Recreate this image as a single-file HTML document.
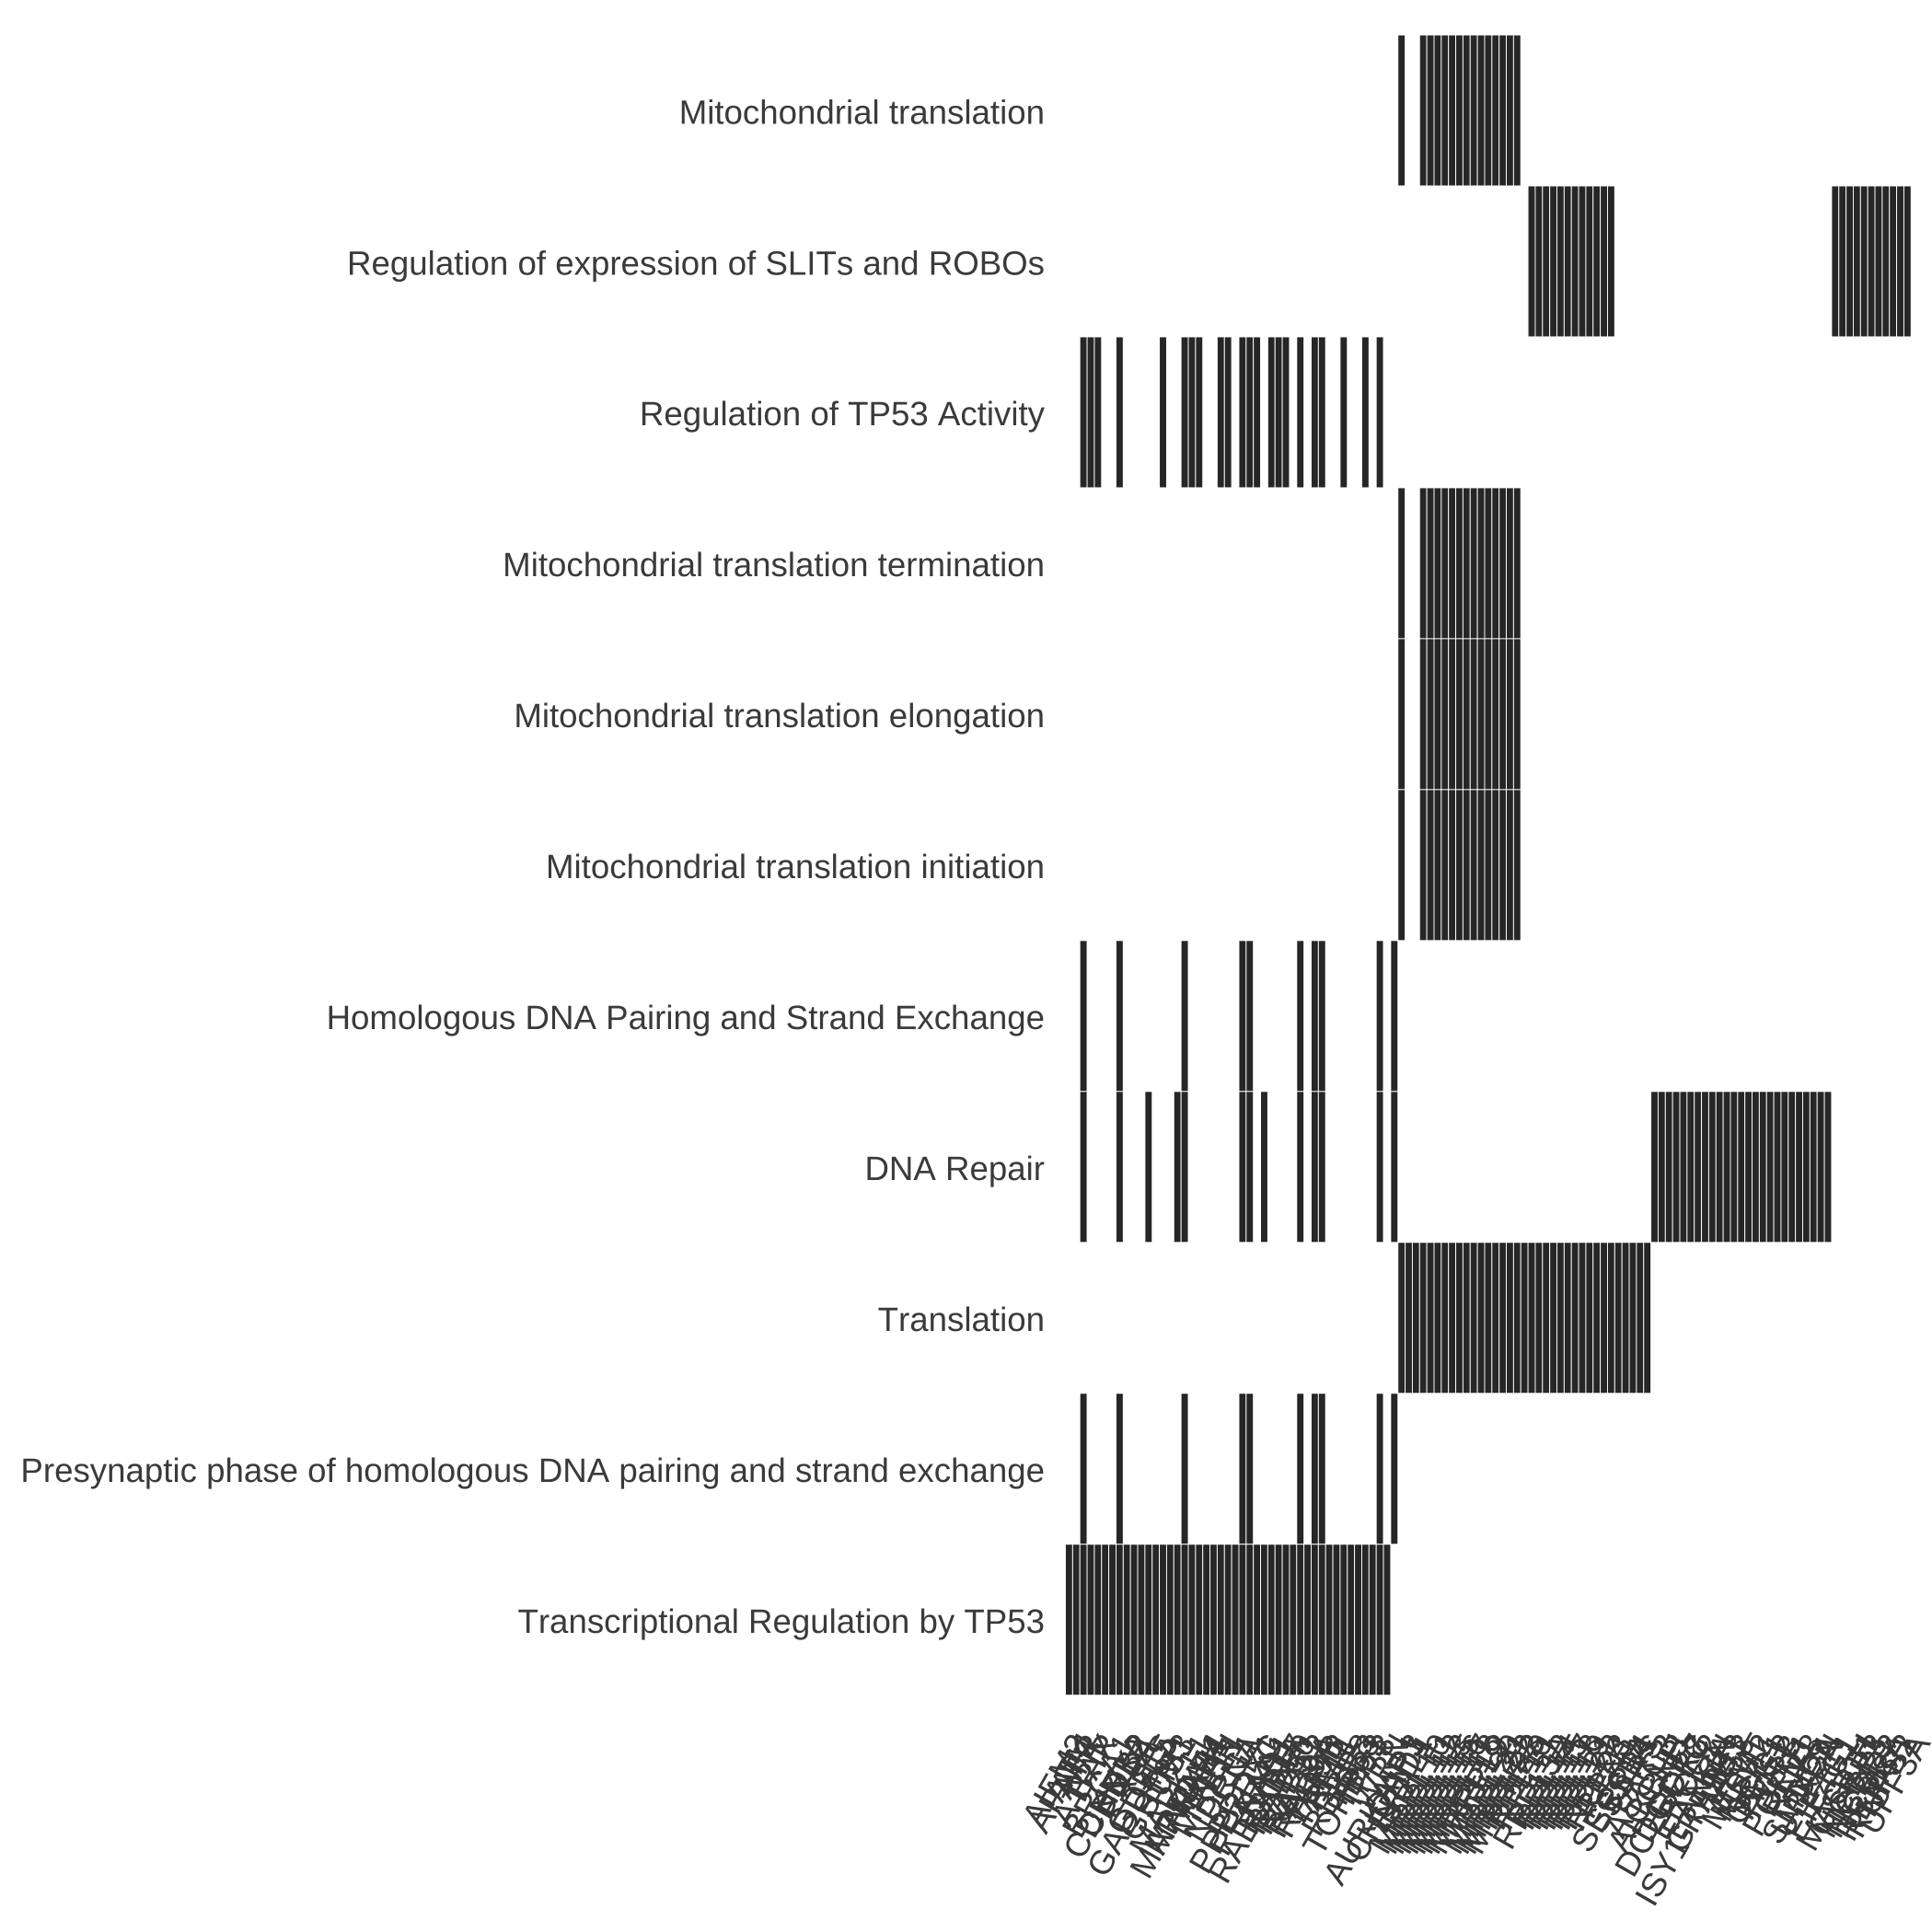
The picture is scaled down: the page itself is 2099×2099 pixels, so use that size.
<!DOCTYPE html>
<html lang="en">
<head>
<meta charset="utf-8">
<title>Pathway gene membership heatmap</title>
<style>
html,body{margin:0;padding:0;background:#fff;width:2099px;height:2099px;overflow:hidden}
svg{display:block}
text{font-family:"Liberation Sans",Arial,sans-serif;fill:#3a3a3a;font-kerning:none;text-rendering:geometricPrecision}
</style>
</head>
<body>
<svg id="chart" xmlns="http://www.w3.org/2000/svg" width="2099" height="2099" viewBox="0 0 2099 2099">
<rect x="0" y="0" width="2099" height="2099" fill="#ffffff"/>
<g id="cells"></g>
<g id="ylabels"></g>
<g id="xlabels"></g>
</svg>
<script>
const pathways = [
  "Mitochondrial translation",
  "Regulation of expression of SLITs and ROBOs",
  "Regulation of TP53 Activity",
  "Mitochondrial translation termination",
  "Mitochondrial translation elongation",
  "Mitochondrial translation initiation",
  "Homologous DNA Pairing and Strand Exchange",
  "DNA Repair",
  "Translation",
  "Presynaptic phase of homologous DNA pairing and strand exchange",
  "Transcriptional Regulation by TP53"
];
const genes = [
  "AIFM2","APAF1","ATM","ATR","ATRIP","BAX","BRCA1","CDKN1A","CHEK2","DDB2",
  "EXO1","GADD45A","GDF15","GLS","GSTM3","HUS1","MAPK11","MAPKAP1","MAPK14","MDM4",
  "MLH1","MRE11","NBN","NDRG1","PCNA","PPP2R5C","PRDX1","PRKAA1","RABGGTA","RAD1",
  "RAD17","RAD50","RAD51","RAD52","RAD9A","RAD9B","TAF12","TAF1L","RMI1","RBBP8",
  "TOPBP1","TP53","TP63","TP73","AURKAIP1","WRN","CHCHD1","DAP3","ERAL1","MRPL10",
  "MRPL11","MRPL12","MRPL13","MRPL15","MRPL16","MRPL17","MRPL18","MRPL19","MRPL2","MRPL20",
  "MRPL21","MRPL22","MRPL23","MTIF2","RPL10","RPL11","RPL13A","RPL12","RPL14","RPL15",
  "RPL17","RPL18","RPL19","RPL21","RPL22","RPL23","RPN1","SEC61A","SRP14","SSR1",
  "TARS","ASCC3","ALKBH3","CCNH","DCLRE1C","DGCR8","CDK7","ERCC2","ISY1-RAB43","FANCA",
  "GTF2H1","KIN","LIG1","LIG3","MGMT","MSH2","NEIL1","OGG1","PMS2","POLB",
  "POLD1","REV1","RNF8","SMUG1","UBE2N","XPA","EIF4G1","ETF1","MAGOH","GSPT1",
  "NCBP3","NCBP1","NCBP2","RBM8A","RNPS1","UPF2","UPF3A"
];
const mitoTranslation = [
  0,0,0,0,0,0,0,0,0,0, 0,0,0,0,0,0,0,0,0,0, 0,0,0,0,0,0,0,0,0,0, 0,0,0,0,0,0,0,0,0,0,
  0,0,0,0,0,0,1,0,0,1, 1,1,1,1,1,1,1,1,1,1, 1,1,1,0,0,0,0,0,0,0, 0,0,0,0,0,0,0,0,0,0,
  0,0,0,0,0,0,0,0,0,0, 0,0,0,0,0,0,0,0,0,0, 0,0,0,0,0,0,0,0,0,0, 0,0,0,0,0,0,0
];
const slitsRobos = [
  0,0,0,0,0,0,0,0,0,0, 0,0,0,0,0,0,0,0,0,0, 0,0,0,0,0,0,0,0,0,0, 0,0,0,0,0,0,0,0,0,0,
  0,0,0,0,0,0,0,0,0,0, 0,0,0,0,0,0,0,0,0,0, 0,0,0,0,1,1,1,1,1,1, 1,1,1,1,1,1,0,0,0,0,
  0,0,0,0,0,0,0,0,0,0, 0,0,0,0,0,0,0,0,0,0, 0,0,0,0,0,0,1,1,1,1, 1,1,1,1,1,1,1
];
const tp53Activity = [
  0,0,1,1,1,0,0,1,0,0, 0,0,0,1,0,0,1,1,1,0, 0,1,1,0,1,1,1,0,1,1, 1,0,1,0,1,1,0,0,1,0,
  0,1,0,1,0,0,0,0,0,0, 0,0,0,0,0,0,0,0,0,0, 0,0,0,0,0,0,0,0,0,0, 0,0,0,0,0,0,0,0,0,0,
  0,0,0,0,0,0,0,0,0,0, 0,0,0,0,0,0,0,0,0,0, 0,0,0,0,0,0,0,0,0,0, 0,0,0,0,0,0,0
];
const mitoTermination = [
  0,0,0,0,0,0,0,0,0,0, 0,0,0,0,0,0,0,0,0,0, 0,0,0,0,0,0,0,0,0,0, 0,0,0,0,0,0,0,0,0,0,
  0,0,0,0,0,0,1,0,0,1, 1,1,1,1,1,1,1,1,1,1, 1,1,1,0,0,0,0,0,0,0, 0,0,0,0,0,0,0,0,0,0,
  0,0,0,0,0,0,0,0,0,0, 0,0,0,0,0,0,0,0,0,0, 0,0,0,0,0,0,0,0,0,0, 0,0,0,0,0,0,0
];
const mitoElongation = [
  0,0,0,0,0,0,0,0,0,0, 0,0,0,0,0,0,0,0,0,0, 0,0,0,0,0,0,0,0,0,0, 0,0,0,0,0,0,0,0,0,0,
  0,0,0,0,0,0,1,0,0,1, 1,1,1,1,1,1,1,1,1,1, 1,1,1,0,0,0,0,0,0,0, 0,0,0,0,0,0,0,0,0,0,
  0,0,0,0,0,0,0,0,0,0, 0,0,0,0,0,0,0,0,0,0, 0,0,0,0,0,0,0,0,0,0, 0,0,0,0,0,0,0
];
const mitoInitiation = [
  0,0,0,0,0,0,0,0,0,0, 0,0,0,0,0,0,0,0,0,0, 0,0,0,0,0,0,0,0,0,0, 0,0,0,0,0,0,0,0,0,0,
  0,0,0,0,0,0,1,0,0,1, 1,1,1,1,1,1,1,1,1,1, 1,1,1,0,0,0,0,0,0,0, 0,0,0,0,0,0,0,0,0,0,
  0,0,0,0,0,0,0,0,0,0, 0,0,0,0,0,0,0,0,0,0, 0,0,0,0,0,0,0,0,0,0, 0,0,0,0,0,0,0
];
const homologousPairing = [
  0,0,1,0,0,0,0,1,0,0, 0,0,0,0,0,0,1,0,0,0, 0,0,0,0,1,1,0,0,0,0, 0,0,1,0,1,1,0,0,0,0,
  0,0,0,1,0,1,0,0,0,0, 0,0,0,0,0,0,0,0,0,0, 0,0,0,0,0,0,0,0,0,0, 0,0,0,0,0,0,0,0,0,0,
  0,0,0,0,0,0,0,0,0,0, 0,0,0,0,0,0,0,0,0,0, 0,0,0,0,0,0,0,0,0,0, 0,0,0,0,0,0,0
];
const dnaRepair = [
  0,0,1,0,0,0,0,1,0,0, 0,1,0,0,0,1,1,0,0,0, 0,0,0,0,1,1,0,1,0,0, 0,0,1,0,1,1,0,0,0,0,
  0,0,0,1,0,1,0,0,0,0, 0,0,0,0,0,0,0,0,0,0, 0,0,0,0,0,0,0,0,0,0, 0,0,0,0,0,0,0,0,0,0,
  0,1,1,1,1,1,1,1,1,1, 1,1,1,1,1,1,1,1,1,1, 1,1,1,1,1,1,0,0,0,0, 0,0,0,0,0,0,0
];
const translation = [
  0,0,0,0,0,0,0,0,0,0, 0,0,0,0,0,0,0,0,0,0, 0,0,0,0,0,0,0,0,0,0, 0,0,0,0,0,0,0,0,0,0,
  0,0,0,0,0,0,1,1,1,1, 1,1,1,1,1,1,1,1,1,1, 1,1,1,1,1,1,1,1,1,1, 1,1,1,1,1,1,1,1,1,1,
  1,0,0,0,0,0,0,0,0,0, 0,0,0,0,0,0,0,0,0,0, 0,0,0,0,0,0,0,0,0,0, 0,0,0,0,0,0,0
];
const presynapticPhase = [
  0,0,1,0,0,0,0,1,0,0, 0,0,0,0,0,0,1,0,0,0, 0,0,0,0,1,1,0,0,0,0, 0,0,1,0,1,1,0,0,0,0,
  0,0,0,1,0,1,0,0,0,0, 0,0,0,0,0,0,0,0,0,0, 0,0,0,0,0,0,0,0,0,0, 0,0,0,0,0,0,0,0,0,0,
  0,0,0,0,0,0,0,0,0,0, 0,0,0,0,0,0,0,0,0,0, 0,0,0,0,0,0,0,0,0,0, 0,0,0,0,0,0,0
];
const tp53Transcription = [
  1,1,1,1,1,1,1,1,1,1, 1,1,1,1,1,1,1,1,1,1, 1,1,1,1,1,1,1,1,1,1, 1,1,1,1,1,1,1,1,1,1,
  1,1,1,1,1,0,0,0,0,0, 0,0,0,0,0,0,0,0,0,0, 0,0,0,0,0,0,0,0,0,0, 0,0,0,0,0,0,0,0,0,0,
  0,0,0,0,0,0,0,0,0,0, 0,0,0,0,0,0,0,0,0,0, 0,0,0,0,0,0,0,0,0,0, 0,0,0,0,0,0,0
];
const membership = [
  mitoTranslation, slitsRobos, tp53Activity, mitoTermination, mitoElongation, mitoInitiation,
  homologousPairing, dnaRepair, translation, presynapticPhase, tp53Transcription
];

const SVG_NS = "http://www.w3.org/2000/svg";
const plotLeft = 1157.5, plotRight = 2076.3, plotTop = 38, plotBottom = 1841.7;
const cellW = (plotRight - plotLeft) / genes.length;
const cellH = (plotBottom - plotTop) / pathways.length;
const xScale = function (i) { return plotLeft + i * cellW; };
const yScale = function (r) { return plotTop + r * cellH; };
const colorScale = function (v) { return v > 0 ? "#262626" : "#ffffff"; };

const fontSize = 36.67;
const cellsG = document.getElementById("cells");
const yG = document.getElementById("ylabels");
const xG = document.getElementById("xlabels");

membership.forEach(function (row, r) {
  row.forEach(function (v, c) {
    if (!v) return;
    const rect = document.createElementNS(SVG_NS, "rect");
    
    
    rect.setAttribute("x", xScale(c));
    rect.setAttribute("y", yScale(r));
    rect.setAttribute("width", cellW);
    rect.setAttribute("height", cellH);
    rect.setAttribute("fill", colorScale(v));
    rect.setAttribute("stroke", "#ffffff");
    rect.setAttribute("stroke-width", "0.95");
    cellsG.appendChild(rect);
  });
});

pathways.forEach(function (name, r) {
  const t = document.createElementNS(SVG_NS, "text");
  
  
  t.setAttribute("x", 1135);
  t.setAttribute("y", yScale(r) + cellH / 2 + 14.3);
  t.setAttribute("text-anchor", "end");
  t.setAttribute("font-size", fontSize);
  t.textContent = name;
  yG.appendChild(t);
});

const angle = 60, labelTop = 1880, labelShift = -12;
const sinA = Math.sin(angle * Math.PI / 180), cosA = Math.cos(angle * Math.PI / 180);
const boxH = 0.94 * fontSize, boxDescent = 0.21 * fontSize;
genes.forEach(function (name, c) {
  const t = document.createElementNS(SVG_NS, "text");
  
  
  t.setAttribute("font-size", fontSize);
  t.setAttribute("text-anchor", "middle");
  t.textContent = name;
  xG.appendChild(t);
  const len = t.getComputedTextLength();
  const bboxH = len * sinA + boxH * cosA;
  const cx = xScale(c) + cellW / 2 + labelShift;
  const cy = labelTop + bboxH / 2;
  t.setAttribute("x", 0);
  t.setAttribute("y", boxH / 2 - boxDescent);
  t.setAttribute("transform", "translate(" + cx + " " + cy + ") rotate(" + (-angle) + ")");
});
</script>
</body>
</html>
